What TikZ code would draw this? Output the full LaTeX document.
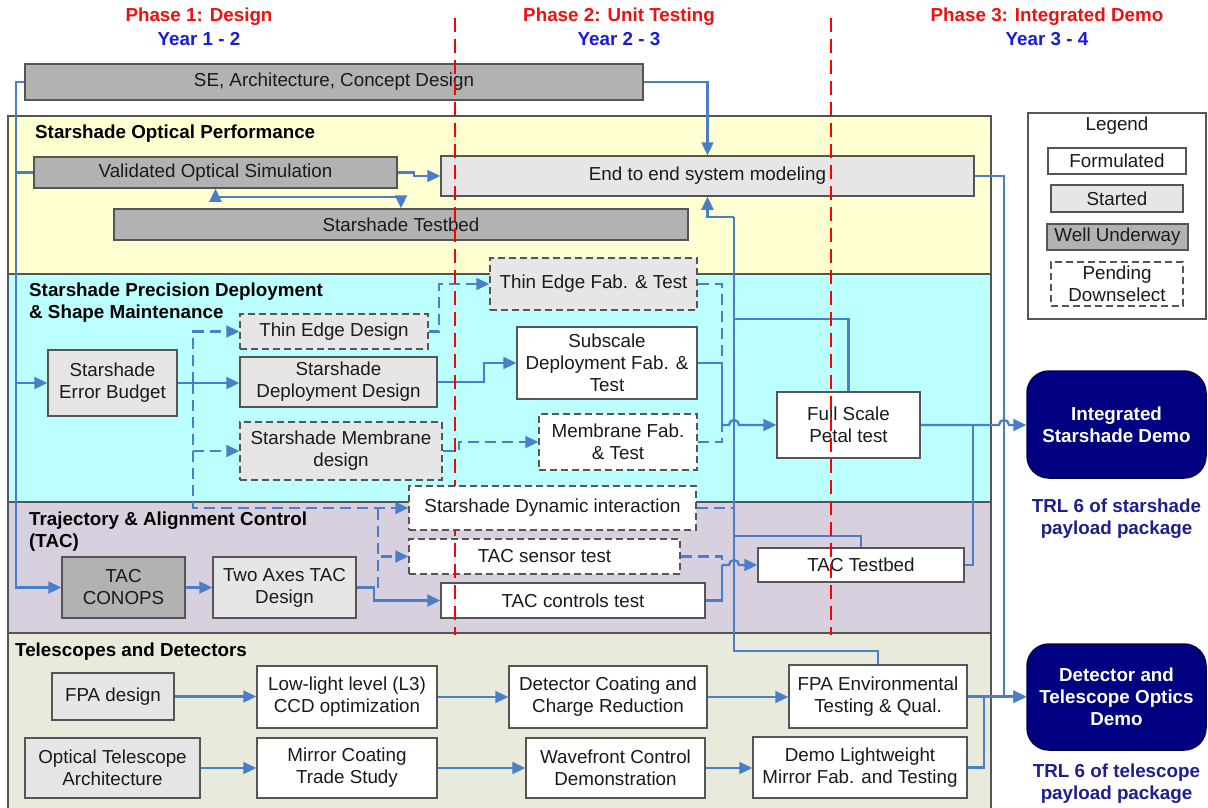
\documentclass[tikz,border=0pt]{standalone}
\usepackage{fontspec}
\setmainfont{Liberation Sans}
\usetikzlibrary{arrows.meta,calc}
\definecolor{bord}{HTML}{555555}
\definecolor{lgr}{HTML}{E6E6E6}
\definecolor{dgr}{HTML}{B2B2B2}
\definecolor{conc}{HTML}{4A7EC8}
\definecolor{yel}{HTML}{FFFFD2}
\definecolor{cya}{HTML}{BBFFFF}
\definecolor{lav}{HTML}{D8D0DE}
\definecolor{grn}{HTML}{E8EBDC}
\definecolor{navyb}{HTML}{000080}
\definecolor{navyd}{HTML}{00004A}
\definecolor{trl}{HTML}{1E1E8C}
\definecolor{phred}{HTML}{EE1111}
\definecolor{phblue}{HTML}{1A1ADD}
\definecolor{txt}{HTML}{1A1A1A}
\newcommand{\myfs}{\fontsize{18.8pt}{22pt}\selectfont}
\newcommand{\bx}[7]{\node[#6, minimum width={#4-#2}, minimum height={#5-#3}] (#1) at ({(#2+#4)/2},{(#3+#5)/2+1}) {#7};}
\begin{document}
\begin{tikzpicture}[x=1pt,y=-1pt,
 box/.style={draw=bord, line width=1.5pt, font=\myfs, align=center, inner sep=0pt, text=txt},
 form/.style={box, fill=white},
 started/.style={box, fill=lgr},
 well/.style={box, fill=dgr},
 pendw/.style={box, fill=white, dash pattern=on 7pt off 4pt},
 pendg/.style={box, fill=lgr, dash pattern=on 7pt off 4pt},
 demo/.style={fill=navyb, draw=navyd, line width=1.5pt, rounded corners=22pt, font=\myfs\bfseries, text=white, align=center, inner sep=0pt},
 band/.style={draw=bord, line width=1.3pt},
 btitle/.style={font=\myfs\bfseries, text=black, anchor=west, align=left, inner sep=0pt},
 phase/.style={font=\myfs\bfseries, text=phred, inner sep=0pt},
 year/.style={font=\myfs\bfseries, text=phblue, inner sep=0pt},
 trltext/.style={font=\myfs\bfseries, text=trl, align=center, inner sep=0pt},
 conn/.style={draw=conc, line width=2.3pt},
 arr/.style={conn, -{Triangle[length=13pt,width=12pt]}},
 arrtwo/.style={conn, {Triangle[length=13pt,width=12pt]}-{Triangle[length=13pt,width=12pt]}},
 dconn/.style={conn, dash pattern=on 11pt off 6pt},
 darr/.style={dconn, -{Triangle[length=13pt,width=12pt]}},
 reddash/.style={draw=red, line width=2pt, dash pattern=on 14pt off 7pt}
]
\useasboundingbox (0,0) rectangle (1208,808);
\fill[white] (0,0) rectangle (1208,808);

% bands
\filldraw[band, fill=yel] (8,116) rectangle (991,274);
\filldraw[band, fill=cya] (8,274) rectangle (991,502);
\filldraw[band, fill=lav] (8,502) rectangle (991,633);
\filldraw[band, fill=grn] (8,633) rectangle (991,815);

% band titles
\node[btitle] (t1) at (35,134) {Starshade Optical Performance};
\node[btitle] (t2) at (29,303) {Starshade Precision Deployment\\\& Shape Maintenance};
\node[btitle] (t3) at (29,532) {Trajectory \& Alignment Control\\(TAC)};
\node[btitle] (t4) at (15,652) {Telescopes and Detectors};

% headers
\node[phase] (p1) at (199,17) {Phase 1: Design};
\node[year] (y1) at (199,39) {Year 1 - 2};
\node[phase] (p2) at (619,17) {Phase 2: Unit Testing};
\node[year] (y2) at (619,39) {Year 2 - 3};
\node[phase] (p3) at (1047,17) {Phase 3: Integrated Demo};
\node[year] (y3) at (1047,39) {Year 3 - 4};

% boxes
\bx{se}{25}{63}{643}{99}{well}{SE, Architecture, Concept Design}
\bx{vos}{34}{156}{397}{187}{well}{Validated Optical Simulation}
\bx{tb}{114}{208}{688}{239}{well}{Starshade Testbed}
\bx{e2e}{441}{155}{974}{195}{started}{End to end system modeling}
\bx{tef}{490}{257}{697}{309}{pendg}{Thin Edge Fab. \& Test}
\bx{ted}{240}{313}{428}{348}{pendg}{Thin Edge Design}
\bx{eb}{48}{349}{177}{415}{started}{Starshade\\Error Budget}
\bx{dd}{240}{356}{437}{406}{started}{Starshade\\Deployment Design}
\bx{sub}{517}{326}{697}{398}{form}{Subscale\\Deployment Fab. \&\\Test}
\bx{smd}{240}{421}{442}{479}{pendg}{Starshade Membrane\\design}
\bx{mf}{539}{413}{697}{469}{pendw}{Membrane Fab.\\\& Test}
\bx{fsp}{777}{391}{920}{457}{form}{Full Scale\\Petal test}
\bx{tst}{409}{538}{680}{573}{pendw}{TAC sensor test}
\bx{conops}{62}{556}{185}{617}{well}{TAC\\CONOPS}
\bx{two}{213}{556}{356}{617}{started}{Two Axes TAC\\Design}
\bx{tcc}{441}{582}{705}{617}{form}{TAC controls test}
\bx{ttb}{758}{547}{964}{581}{form}{TAC Testbed}
\bx{fpad}{52}{672}{174}{719}{started}{FPA design}
\bx{ll}{257}{665}{437}{727}{form}{Low-light level (L3)\\CCD optimization}
\bx{dc}{509}{665}{707}{727}{form}{Detector Coating and\\Charge Reduction}
\bx{fpae}{789}{664}{967}{727}{form}{FPA Environmental\\Testing \& Qual.}
\bx{ota}{25}{737}{200}{797}{started}{Optical Telescope\\Architecture}
\bx{mct}{257}{737}{437}{797}{form}{Mirror Coating\\Trade Study}
\bx{wcd}{526}{737}{705}{797}{form}{Wavefront Control\\Demonstration}
\bx{dlw}{753}{736}{967}{797}{form}{Demo Lightweight\\Mirror Fab. and Testing}

% legend
\bx{leg}{1028}{112}{1206}{318}{form, line width=1.3pt}{}
\node[font=\myfs, text=txt, inner sep=0pt] (legt) at (1117,126) {Legend};
\bx{lf}{1048}{147}{1186}{173}{form}{Formulated}
\bx{ls}{1051}{184}{1183}{211}{started}{Started}
\bx{lw}{1047}{223}{1188}{249}{well}{Well Underway}
\bx{lp}{1051}{261}{1183}{305}{pendw}{Pending\\Downselect}

% demos
\bx{isd}{1027}{370}{1206}{477}{demo}{Integrated\\Starshade Demo}
\bx{dtd}{1027}{643}{1206}{749}{demo}{Detector and\\Telescope Optics\\Demo}
\node[trltext] (trl1) at (1116.5,519) {TRL 6 of starshade\\payload package};
\node[trltext] (trl2) at (1116.5,784) {TRL 6 of telescope\\payload package};

% coordinates
\coordinate (lb) at (16,82);
\coordinate (j1) at (193,383);
\coordinate (j2) at (378,587.5);
\coordinate (j3) at (722,425);
\coordinate (j4) at (722,565);
\coordinate (btop) at (734,217);
\coordinate (bxx) at (734,0);
\coordinate (rb) at (1004,0);

% connectors
\draw[conn] (se.west) -- (lb) |- (vos.west);
\draw[arr] (lb) |- (eb.west);
\draw[arr] (lb) |- (conops.west);
\draw[arr] (se.east) -| (e2e.north);
\draw[arr] (vos.east) -- ++(16,0) |- (e2e.west);
\draw[arrtwo] (vos.south) |- ($(tb.north)+(0,-11)$) -- (tb.north);
\draw[arr] (eb.east) -- (eb.east -| dd.west);
\draw[darr] (j1) |- (ted.west);
\draw[darr] (j1) |- (smd.west);
\draw[arr] (dd.east) -- ++(46,0) |- (sub.west);
\draw[darr] (ted.east) -- ++(10,0) |- (tef.west);
\draw[darr] (smd.east) -- ++(16,0) |- (mf.west);
\draw[dconn] (tef.east) -| (j3);
\draw[dconn] (mf.east) -| (j3);
\draw[conn] (sub.east) -| (j3);
\draw[arr] (j3) -- ($(bxx |- j3)+(-5,0)$) arc[start angle=180,end angle=0,radius=5pt] -- (fsp.west);
\draw[arr] (btop) -| (e2e.south);
\draw[conn] (fsp.north) |- (734,319) -- (btop);
\draw[conn] (ttb.north) |- (734,536) -- (btop);
\draw[conn] (fpae.north) |- (734,651) -- (btop);
\draw[arr] (conops.east) -- (two.west);
\draw[arr] (two.east) -- ++(17,0) |- (tcc.west);
\draw[darr] (j2) |- (tst.west);
\draw[dconn] (tst.east) -| (j4);
\draw[conn] (tcc.east) -| (j4);
\draw[arr] (j4) -- ($(bxx |- j4)+(-5,0)$) arc[start angle=180,end angle=0,radius=5pt] -- (ttb.west);
\draw[arr] (e2e.east) -| (rb |- dtd.west) -- (dtd.west);
\draw[arr] (fsp.east) -- ($(rb |- fsp.east)+(-5,0)$) arc[start angle=180,end angle=0,radius=5pt] -- (fsp.east -| isd.west);
\draw[conn] (ttb.east) -| (973,425);
\draw[arr] (fpae.east) -- (fpae.east -| dtd.west);
\draw[conn] (dlw.east) -| (984,696.5);
\draw[arr] (fpad.east) -- (fpad.east -| ll.west);
\draw[arr] (ll.east) -- (ll.east -| dc.west);
\draw[arr] (dc.east) -- (dc.east -| fpae.west);
\draw[arr] (ota.east) -- (ota.east -| mct.west);
\draw[arr] (mct.east) -- (mct.east -| wcd.west);
\draw[arr] (wcd.east) -- (wcd.east -| dlw.west);

% phase separators
\draw[reddash] (455,18) -- (455,635);
\draw[reddash] (831,18) -- (831,635);

% dynamic interaction box on top
\bx{dyn}{409}{485}{696}{529}{pendw}{Starshade Dynamic interaction}
\draw[darr] (j1) |- (dyn.west);
\draw[dconn] (j2) -- (j2 |- dyn.west);
\draw[dconn] (dyn.east) -- (dyn.east -| btop);
\end{tikzpicture}
\end{document}
